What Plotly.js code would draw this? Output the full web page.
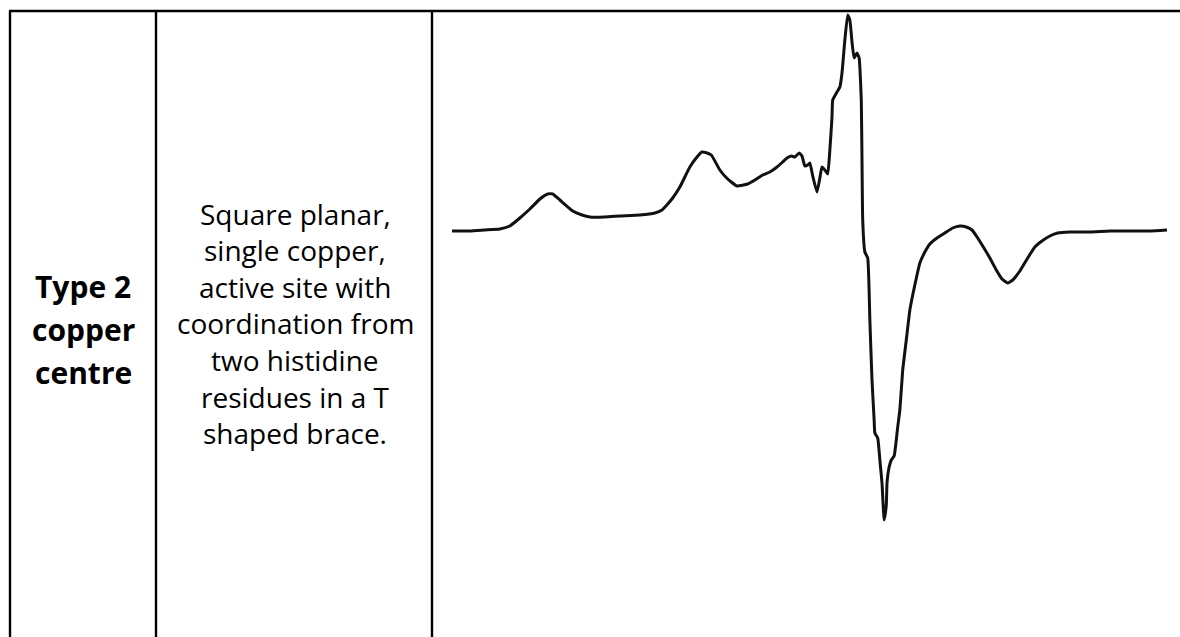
<!DOCTYPE html>
<html>
<head>
<meta charset="utf-8">
<script src="https://cdn.plot.ly/plotly-3.0.1.min.js"></script>
<style>
  html, body { margin: 0; padding: 0; background: #ffffff; }
  #chart { width: 1180px; height: 637px; }
</style>
</head>
<body>
<div id="chart"></div>
<script>
// Row label and description text for the table
const rowLabel = ["Type 2", "copper", "centre"];
const description = [
  "Square planar,",
  "single copper,",
  "active site with",
  "coordination from",
  "two histidine",
  "residues in a T",
  "shaped brace."
];

// EPR spectrum of the type 2 copper centre: magnetic field (G) and first-derivative signal (a.u.)
const field = [
  2600, 2625, 2646, 2667, 2681, 2695, 2709, 2723, 2734, 2741,
  2751, 2769, 2782, 2793, 2814, 2835, 2863, 2884, 2894, 2902,
  2909, 2919, 2933, 2943, 2950, 2957, 2963, 2975, 2986, 2999,
  3014, 3024, 3035, 3045, 3055, 3063, 3069, 3075, 3080, 3086,
  3090, 3094, 3098, 3101, 3105, 3111, 3115, 3118, 3122, 3126,
  3129, 3132, 3133, 3139, 3143, 3146, 3150, 3154, 3157, 3160,
  3163, 3167, 3170, 3171, 3173, 3174, 3175, 3178, 3182, 3185,
  3188, 3191, 3192, 3196, 3199, 3202, 3205, 3208, 3209, 3212,
  3215, 3219, 3222, 3224, 3227, 3231, 3236, 3241, 3245, 3251,
  3255, 3262, 3269, 3279, 3290, 3301, 3311, 3320, 3328, 3336,
  3343, 3353, 3362, 3370, 3378, 3385, 3395, 3406, 3416, 3426,
  3437, 3448, 3465, 3493, 3521, 3549, 3577, 3601
];
const signal = [
   -1,  -1,   0,   1,   4,  12,  21,  31,  36,  36,
   30,  19,  15,  13,  13,  14,  15,  17,  20,  26,
   32,  43,  63,  73,  78,  77,  75,  60,  51,  44,
   46,  50,  55,  58,  63,  68,  72,  74,  73,  77,
   74,  64,  65,  67,  54,  38,  52,  63,  60,  56,
   80, 113, 130, 138, 143, 157, 190, 215, 210, 188,
  172, 177, 172, 163, 130,  70,  10, -22, -28, -90,
 -150,-190,-203,-208,-230,-253,-290,-275,-253,-237,
 -230,-226,-210,-197,-180,-140,-110, -80, -65, -45,
  -33, -22, -14,  -8,  -3,   2,   4,   3,   0,  -8,
  -16, -28, -40, -49, -53, -50, -41, -28, -17, -11,
   -6,  -3,  -2,  -2,  -1,  -1,  -1,   0
];

const W = 1180, H = 637;
const px = v => v / W;          // horizontal pixel -> paper fraction
const py = v => 1 - v / H;      // vertical pixel (from top) -> paper fraction

// Table rules: top border and three column dividers, open at the bottom
const rule = { color: "#000000", width: 2.4 };
const shapes = [
  { type: "line", xref: "paper", yref: "paper", x0: px(9), x1: 1, y0: py(11), y1: py(11), line: rule },
  { type: "line", xref: "paper", yref: "paper", x0: px(10), x1: px(10), y0: py(11), y1: 0, line: rule },
  { type: "line", xref: "paper", yref: "paper", x0: px(156), x1: px(156), y0: py(11), y1: 0, line: rule },
  { type: "line", xref: "paper", yref: "paper", x0: px(432), x1: px(432), y0: py(11), y1: 0, line: rule }
];

const textFont = "'Open Sans', 'Noto Sans', sans-serif";
const annotations = [];
const labelY = [287, 330, 373];
rowLabel.forEach((t, i) => annotations.push({
  xref: "paper", yref: "paper", x: px(83), y: py(labelY[i]),
  xanchor: "center", yanchor: "middle", showarrow: false,
  text: "<b>" + t + "</b>",
  font: { family: textFont, size: 30, color: "#000000" }
}));
const descY = [214, 250, 287, 323, 360, 397, 433];
description.forEach((t, i) => annotations.push({
  xref: "paper", yref: "paper", x: px(295), y: py(descY[i]),
  xanchor: "center", yanchor: "middle", showarrow: false,
  text: t,
  font: { family: textFont, size: 28, color: "#000000" }
}));

const trace = {
  type: "scatter", mode: "lines",
  x: field, y: signal,
  line: { color: "#111111", width: 3, shape: "spline", smoothing: 0.4 },
  hoverinfo: "skip"
};

// Field axis placed so the spectrum sits in the third column; both axes hidden
const xRange = [2600 - 452 * 1.4, 2600 + (W - 452) * 1.4];
const yRange = [230 - H, 230];

const layout = {
  width: W, height: H,
  margin: { l: 0, r: 0, t: 0, b: 0, pad: 0 },
  paper_bgcolor: "#ffffff", plot_bgcolor: "#ffffff",
  showlegend: false,
  xaxis: { range: xRange, visible: false, fixedrange: true },
  yaxis: { range: yRange, visible: false, fixedrange: true },
  shapes: shapes,
  annotations: annotations
};

Plotly.newPlot("chart", [trace], layout, { staticPlot: true, displayModeBar: false });
</script>
</body>
</html>
